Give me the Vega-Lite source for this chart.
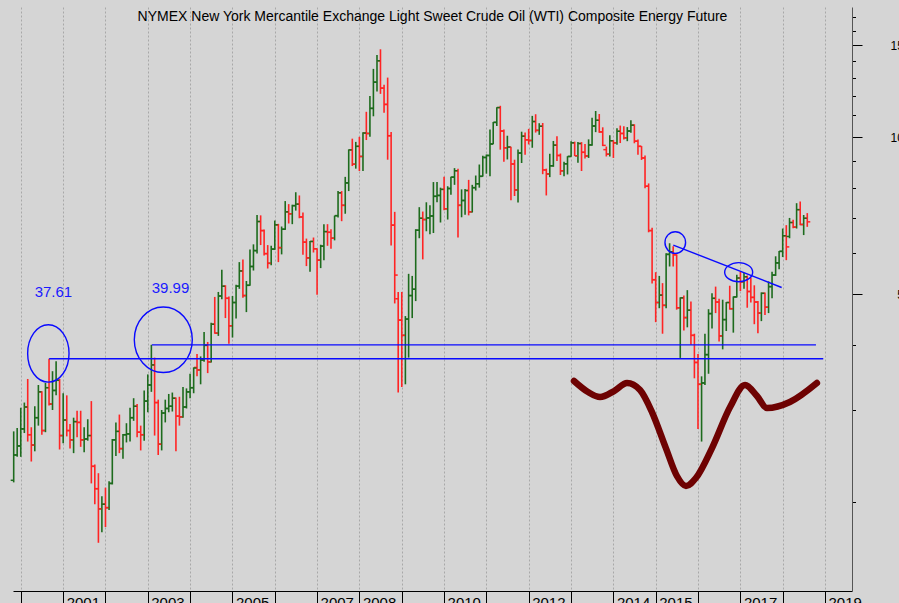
{
"$schema":"https://vega.github.io/schema/vega-lite/v6.json",
"width":839,"height":584,
"autosize":{"type":"none"},
"padding":{"left":13,"top":7,"right":47,"bottom":12},
"background":"#d5d5d5",
"config":{"view":{"stroke":null,"fill":"#d5d5d5"},"font":"Liberation Sans"},
"title":{"text":"NYMEX New York Mercantile Exchange Light Sweet Crude Oil (WTI) Composite Energy Future","anchor":"middle","frame":"group","fontSize":14,"fontWeight":"normal","font":"Liberation Sans","color":"#000000","baseline":"alphabetic","offset":-28},
"datasets":{
"ohlc":[
{"d":"1999-11-01","o":22.0,"h":27.3,"l":21.8,"c":24.6},
{"d":"1999-12-01","o":24.6,"h":27.7,"l":24.4,"c":25.6},
{"d":"2000-01-01","o":25.6,"h":30.3,"l":24.4,"c":27.6},
{"d":"2000-02-01","o":27.6,"h":31.0,"l":27.1,"c":30.4},
{"d":"2000-03-01","o":30.4,"h":34.4,"l":26.1,"c":26.9},
{"d":"2000-04-01","o":26.9,"h":27.8,"l":23.9,"c":25.7},
{"d":"2000-05-01","o":25.7,"h":30.5,"l":25.0,"c":29.0},
{"d":"2000-06-01","o":29.0,"h":33.5,"l":28.0,"c":32.5},
{"d":"2000-07-01","o":32.5,"h":32.6,"l":26.9,"c":27.4},
{"d":"2000-08-01","o":27.4,"h":33.8,"l":27.2,"c":33.1},
{"d":"2000-09-01","o":33.1,"h":37.61,"l":30.6,"c":30.8},
{"d":"2000-10-01","o":30.8,"h":35.6,"l":30.0,"c":32.7},
{"d":"2000-11-01","o":32.7,"h":37.2,"l":32.0,"c":34.2},
{"d":"2000-12-01","o":34.2,"h":34.4,"l":25.2,"c":26.8},
{"d":"2001-01-01","o":26.8,"h":32.3,"l":25.9,"c":28.7},
{"d":"2001-02-01","o":28.7,"h":32.0,"l":26.7,"c":27.4},
{"d":"2001-03-01","o":27.4,"h":28.2,"l":25.3,"c":26.3},
{"d":"2001-04-01","o":26.3,"h":29.0,"l":24.8,"c":28.5},
{"d":"2001-05-01","o":28.5,"h":29.9,"l":26.6,"c":28.4},
{"d":"2001-06-01","o":28.4,"h":29.9,"l":25.5,"c":26.3},
{"d":"2001-07-01","o":26.3,"h":27.8,"l":24.9,"c":26.4},
{"d":"2001-08-01","o":26.4,"h":28.8,"l":26.2,"c":26.8},
{"d":"2001-09-01","o":26.8,"h":31.2,"l":21.7,"c":23.4},
{"d":"2001-10-01","o":23.4,"h":23.6,"l":19.8,"c":21.2},
{"d":"2001-11-01","o":21.2,"h":22.7,"l":16.7,"c":19.4},
{"d":"2001-12-01","o":19.4,"h":20.5,"l":17.5,"c":19.8},
{"d":"2002-01-01","o":19.8,"h":21.3,"l":17.9,"c":19.5},
{"d":"2002-02-01","o":19.5,"h":21.9,"l":19.3,"c":21.7},
{"d":"2002-03-01","o":21.7,"h":26.4,"l":21.6,"c":26.3},
{"d":"2002-04-01","o":26.3,"h":28.4,"l":24.5,"c":27.3},
{"d":"2002-05-01","o":27.3,"h":29.4,"l":24.8,"c":25.3},
{"d":"2002-06-01","o":25.3,"h":27.0,"l":24.2,"c":26.9},
{"d":"2002-07-01","o":26.9,"h":28.3,"l":26.0,"c":27.0},
{"d":"2002-08-01","o":27.0,"h":30.3,"l":26.1,"c":29.0},
{"d":"2002-09-01","o":29.0,"h":31.6,"l":28.6,"c":30.5},
{"d":"2002-10-01","o":30.5,"h":30.8,"l":26.6,"c":27.2},
{"d":"2002-11-01","o":27.2,"h":28.0,"l":25.1,"c":26.9},
{"d":"2002-12-01","o":26.9,"h":32.7,"l":26.2,"c":31.2},
{"d":"2003-01-01","o":31.2,"h":35.1,"l":29.7,"c":33.5},
{"d":"2003-02-01","o":33.5,"h":39.99,"l":32.5,"c":36.6},
{"d":"2003-03-01","o":36.6,"h":37.8,"l":26.8,"c":31.0},
{"d":"2003-04-01","o":31.0,"h":31.4,"l":24.6,"c":25.8},
{"d":"2003-05-01","o":25.8,"h":30.0,"l":25.1,"c":29.6},
{"d":"2003-06-01","o":29.6,"h":31.4,"l":28.4,"c":30.2},
{"d":"2003-07-01","o":30.2,"h":32.2,"l":29.7,"c":30.5},
{"d":"2003-08-01","o":30.5,"h":32.4,"l":29.8,"c":31.6},
{"d":"2003-09-01","o":31.6,"h":31.7,"l":25.0,"c":29.2},
{"d":"2003-10-01","o":29.2,"h":31.8,"l":28.0,"c":29.1},
{"d":"2003-11-01","o":29.1,"h":33.2,"l":29.0,"c":30.4},
{"d":"2003-12-01","o":30.4,"h":33.0,"l":30.2,"c":32.5},
{"d":"2004-01-01","o":32.5,"h":35.2,"l":31.6,"c":33.1},
{"d":"2004-02-01","o":33.1,"h":36.2,"l":32.3,"c":36.1},
{"d":"2004-03-01","o":36.2,"h":38.4,"l":34.8,"c":35.8},
{"d":"2004-04-01","o":35.8,"h":38.0,"l":33.6,"c":37.4},
{"d":"2004-05-01","o":37.4,"h":42.3,"l":37.1,"c":39.9},
{"d":"2004-06-01","o":39.9,"h":40.5,"l":35.3,"c":37.1},
{"d":"2004-07-01","o":37.1,"h":44.1,"l":37.0,"c":43.8},
{"d":"2004-08-01","o":43.8,"h":49.4,"l":42.0,"c":42.1},
{"d":"2004-09-01","o":42.1,"h":50.5,"l":41.6,"c":49.6},
{"d":"2004-10-01","o":49.6,"h":55.7,"l":48.9,"c":51.8},
{"d":"2004-11-01","o":51.8,"h":52.0,"l":45.0,"c":49.1},
{"d":"2004-12-01","o":49.1,"h":49.5,"l":40.2,"c":43.5},
{"d":"2005-01-01","o":43.5,"h":49.6,"l":41.3,"c":48.2},
{"d":"2005-02-01","o":48.2,"h":52.1,"l":44.9,"c":51.8},
{"d":"2005-03-01","o":51.8,"h":57.6,"l":51.2,"c":55.4},
{"d":"2005-04-01","o":55.4,"h":58.3,"l":49.2,"c":49.7},
{"d":"2005-05-01","o":49.7,"h":53.0,"l":46.2,"c":52.0},
{"d":"2005-06-01","o":52.0,"h":60.9,"l":51.9,"c":56.5},
{"d":"2005-07-01","o":56.5,"h":62.3,"l":55.5,"c":60.6},
{"d":"2005-08-01","o":60.6,"h":70.9,"l":59.8,"c":68.9},
{"d":"2005-09-01","o":68.9,"h":70.8,"l":62.1,"c":66.2},
{"d":"2005-10-01","o":66.2,"h":66.5,"l":59.3,"c":59.8},
{"d":"2005-11-01","o":59.8,"h":62.1,"l":56.0,"c":57.3},
{"d":"2005-12-01","o":57.3,"h":61.9,"l":56.8,"c":61.0},
{"d":"2006-01-01","o":61.0,"h":69.2,"l":60.8,"c":67.9},
{"d":"2006-02-01","o":67.9,"h":68.2,"l":57.6,"c":61.4},
{"d":"2006-03-01","o":61.4,"h":67.4,"l":59.6,"c":66.6},
{"d":"2006-04-01","o":66.6,"h":75.4,"l":66.4,"c":71.9},
{"d":"2006-05-01","o":71.9,"h":74.4,"l":68.3,"c":71.3},
{"d":"2006-06-01","o":71.3,"h":74.2,"l":68.1,"c":73.9},
{"d":"2006-07-01","o":73.9,"h":78.4,"l":72.3,"c":74.4},
{"d":"2006-08-01","o":74.4,"h":77.3,"l":69.9,"c":70.3},
{"d":"2006-09-01","o":70.3,"h":71.7,"l":59.5,"c":62.9},
{"d":"2006-10-01","o":62.9,"h":63.9,"l":56.6,"c":58.7},
{"d":"2006-11-01","o":58.7,"h":63.2,"l":55.2,"c":63.1},
{"d":"2006-12-01","o":63.1,"h":64.2,"l":60.1,"c":61.1},
{"d":"2007-01-01","o":61.1,"h":61.2,"l":49.9,"c":58.1},
{"d":"2007-02-01","o":58.1,"h":62.2,"l":56.1,"c":61.8},
{"d":"2007-03-01","o":61.8,"h":68.1,"l":58.1,"c":65.9},
{"d":"2007-04-01","o":65.9,"h":68.1,"l":61.9,"c":65.7},
{"d":"2007-05-01","o":65.7,"h":66.6,"l":61.1,"c":64.0},
{"d":"2007-06-01","o":64.0,"h":70.7,"l":63.4,"c":70.7},
{"d":"2007-07-01","o":70.7,"h":78.8,"l":70.1,"c":78.2},
{"d":"2007-08-01","o":78.2,"h":78.8,"l":69.0,"c":74.0},
{"d":"2007-09-01","o":74.0,"h":83.9,"l":71.3,"c":81.7},
{"d":"2007-10-01","o":81.7,"h":94.7,"l":78.8,"c":94.5},
{"d":"2007-11-01","o":94.5,"h":99.3,"l":88.0,"c":88.7},
{"d":"2007-12-01","o":88.7,"h":97.9,"l":87.0,"c":96.0},
{"d":"2008-01-01","o":96.0,"h":100.1,"l":86.1,"c":91.8},
{"d":"2008-02-01","o":91.8,"h":102.1,"l":86.1,"c":101.8},
{"d":"2008-03-01","o":101.8,"h":111.8,"l":98.7,"c":101.6},
{"d":"2008-04-01","o":101.6,"h":119.9,"l":100.1,"c":113.5},
{"d":"2008-05-01","o":113.5,"h":135.1,"l":109.6,"c":127.4},
{"d":"2008-06-01","o":127.4,"h":143.7,"l":122.3,"c":140.0},
{"d":"2008-07-01","o":140.0,"h":147.3,"l":121.0,"c":124.1},
{"d":"2008-08-01","o":124.1,"h":126.0,"l":111.3,"c":115.5},
{"d":"2008-09-01","o":115.5,"h":130.0,"l":90.5,"c":100.6},
{"d":"2008-10-01","o":100.6,"h":102.3,"l":62.0,"c":67.8},
{"d":"2008-11-01","o":67.8,"h":71.9,"l":48.0,"c":54.4},
{"d":"2008-12-01","o":49.0,"h":50.5,"l":32.4,"c":44.6},
{"d":"2009-01-01","o":44.6,"h":50.5,"l":33.2,"c":41.7},
{"d":"2009-02-01","o":41.7,"h":45.4,"l":33.6,"c":44.8},
{"d":"2009-03-01","o":44.8,"h":54.7,"l":37.8,"c":49.7},
{"d":"2009-04-01","o":49.7,"h":54.2,"l":45.0,"c":51.1},
{"d":"2009-05-01","o":51.1,"h":66.6,"l":48.5,"c":66.3},
{"d":"2009-06-01","o":66.3,"h":73.4,"l":64.0,"c":69.9},
{"d":"2009-07-01","o":69.9,"h":72.0,"l":58.3,"c":69.5},
{"d":"2009-08-01","o":69.5,"h":75.0,"l":66.0,"c":70.0},
{"d":"2009-09-01","o":70.0,"h":74.0,"l":65.1,"c":70.6},
{"d":"2009-10-01","o":70.6,"h":82.0,"l":65.5,"c":77.0},
{"d":"2009-11-01","o":77.0,"h":82.0,"l":75.0,"c":77.3},
{"d":"2009-12-01","o":77.3,"h":80.0,"l":68.6,"c":79.4},
{"d":"2010-01-01","o":79.4,"h":83.9,"l":72.4,"c":72.9},
{"d":"2010-02-01","o":72.9,"h":80.5,"l":69.5,"c":79.7},
{"d":"2010-03-01","o":79.7,"h":83.9,"l":77.5,"c":83.8},
{"d":"2010-04-01","o":83.8,"h":87.2,"l":81.0,"c":86.2},
{"d":"2010-05-01","o":86.2,"h":87.0,"l":64.2,"c":74.0},
{"d":"2010-06-01","o":74.0,"h":79.4,"l":70.2,"c":75.6},
{"d":"2010-07-01","o":75.6,"h":79.5,"l":71.0,"c":79.0},
{"d":"2010-08-01","o":79.0,"h":82.8,"l":70.8,"c":71.9},
{"d":"2010-09-01","o":71.9,"h":81.0,"l":71.7,"c":80.0},
{"d":"2010-10-01","o":80.0,"h":84.4,"l":79.0,"c":81.4},
{"d":"2010-11-01","o":81.4,"h":88.6,"l":80.0,"c":84.1},
{"d":"2010-12-01","o":84.1,"h":92.1,"l":84.0,"c":91.4},
{"d":"2011-01-01","o":91.4,"h":92.6,"l":85.1,"c":92.2},
{"d":"2011-02-01","o":92.2,"h":103.4,"l":84.1,"c":97.0},
{"d":"2011-03-01","o":97.0,"h":106.9,"l":96.9,"c":106.7},
{"d":"2011-04-01","o":106.7,"h":114.0,"l":105.0,"c":113.9},
{"d":"2011-05-01","o":113.9,"h":114.8,"l":94.6,"c":102.7},
{"d":"2011-06-01","o":102.7,"h":103.4,"l":89.7,"c":95.4},
{"d":"2011-07-01","o":95.4,"h":100.6,"l":90.6,"c":95.7},
{"d":"2011-08-01","o":95.7,"h":95.8,"l":75.7,"c":88.8},
{"d":"2011-09-01","o":88.8,"h":90.5,"l":77.1,"c":79.2},
{"d":"2011-10-01","o":79.2,"h":94.7,"l":74.9,"c":93.2},
{"d":"2011-11-01","o":93.2,"h":102.4,"l":89.2,"c":100.4},
{"d":"2011-12-01","o":100.4,"h":102.0,"l":92.5,"c":98.8},
{"d":"2012-01-01","o":98.8,"h":103.7,"l":96.8,"c":98.5},
{"d":"2012-02-01","o":98.5,"h":109.8,"l":95.4,"c":107.1},
{"d":"2012-03-01","o":107.1,"h":110.6,"l":102.0,"c":103.0},
{"d":"2012-04-01","o":103.0,"h":106.3,"l":101.0,"c":104.9},
{"d":"2012-05-01","o":104.9,"h":106.4,"l":84.9,"c":86.5},
{"d":"2012-06-01","o":86.5,"h":87.0,"l":77.3,"c":85.0},
{"d":"2012-07-01","o":85.0,"h":92.9,"l":83.8,"c":88.1},
{"d":"2012-08-01","o":88.1,"h":98.3,"l":87.7,"c":96.5},
{"d":"2012-09-01","o":96.5,"h":100.4,"l":90.0,"c":92.2},
{"d":"2012-10-01","o":92.2,"h":93.0,"l":84.6,"c":86.2},
{"d":"2012-11-01","o":86.2,"h":89.7,"l":84.1,"c":88.9},
{"d":"2012-12-01","o":88.9,"h":91.9,"l":84.8,"c":91.8},
{"d":"2013-01-01","o":91.8,"h":98.2,"l":91.7,"c":97.5},
{"d":"2013-02-01","o":97.5,"h":98.0,"l":92.0,"c":92.1},
{"d":"2013-03-01","o":92.1,"h":97.9,"l":89.3,"c":97.2},
{"d":"2013-04-01","o":97.2,"h":97.8,"l":86.1,"c":93.5},
{"d":"2013-05-01","o":93.5,"h":97.0,"l":91.0,"c":92.0},
{"d":"2013-06-01","o":92.0,"h":99.0,"l":91.2,"c":96.6},
{"d":"2013-07-01","o":96.6,"h":108.9,"l":96.2,"c":105.0},
{"d":"2013-08-01","o":105.0,"h":112.2,"l":102.2,"c":107.7},
{"d":"2013-09-01","o":107.7,"h":110.7,"l":101.9,"c":102.3},
{"d":"2013-10-01","o":102.3,"h":104.4,"l":96.1,"c":96.4},
{"d":"2013-11-01","o":94.6,"h":95.9,"l":91.8,"c":92.7},
{"d":"2013-12-01","o":92.7,"h":100.8,"l":91.8,"c":98.4},
{"d":"2014-01-01","o":98.4,"h":98.6,"l":91.2,"c":97.5},
{"d":"2014-02-01","o":97.5,"h":104.0,"l":96.7,"c":102.6},
{"d":"2014-03-01","o":102.6,"h":105.2,"l":97.4,"c":101.6},
{"d":"2014-04-01","o":101.6,"h":104.9,"l":98.9,"c":99.7},
{"d":"2014-05-01","o":99.7,"h":104.5,"l":98.2,"c":102.7},
{"d":"2014-06-01","o":102.7,"h":107.7,"l":101.9,"c":105.4},
{"d":"2014-07-01","o":105.4,"h":105.8,"l":97.3,"c":98.2},
{"d":"2014-08-01","o":98.2,"h":98.9,"l":92.5,"c":96.0},
{"d":"2014-09-01","o":96.0,"h":96.1,"l":90.4,"c":91.2},
{"d":"2014-10-01","o":91.2,"h":92.2,"l":79.8,"c":80.5},
{"d":"2014-11-01","o":80.5,"h":81.5,"l":65.7,"c":66.2},
{"d":"2014-12-01","o":66.2,"h":67.0,"l":52.4,"c":53.3},
{"d":"2015-01-01","o":53.3,"h":55.1,"l":44.2,"c":48.2},
{"d":"2015-02-01","o":48.2,"h":54.2,"l":47.0,"c":49.8},
{"d":"2015-03-01","o":49.8,"h":52.5,"l":42.0,"c":47.6},
{"d":"2015-04-01","o":47.6,"h":59.9,"l":47.0,"c":59.6},
{"d":"2015-05-01","o":59.6,"h":62.6,"l":56.5,"c":60.3},
{"d":"2015-06-01","o":60.3,"h":61.8,"l":56.5,"c":59.5},
{"d":"2015-07-01","o":59.5,"h":59.6,"l":46.7,"c":47.1},
{"d":"2015-08-01","o":47.1,"h":49.3,"l":37.75,"c":49.2},
{"d":"2015-09-01","o":49.2,"h":49.7,"l":42.6,"c":45.1},
{"d":"2015-10-01","o":45.1,"h":50.9,"l":43.2,"c":46.6},
{"d":"2015-11-01","o":46.6,"h":48.4,"l":40.0,"c":41.7},
{"d":"2015-12-01","o":41.7,"h":42.0,"l":34.5,"c":37.0},
{"d":"2016-01-01","o":37.0,"h":38.4,"l":27.6,"c":33.6},
{"d":"2016-02-01","o":33.6,"h":34.8,"l":26.1,"c":33.8},
{"d":"2016-03-01","o":33.8,"h":42.0,"l":33.5,"c":38.3},
{"d":"2016-04-01","o":38.3,"h":46.8,"l":35.2,"c":45.9},
{"d":"2016-05-01","o":45.9,"h":50.2,"l":43.0,"c":49.1},
{"d":"2016-06-01","o":49.1,"h":51.7,"l":46.0,"c":48.3},
{"d":"2016-07-01","o":48.3,"h":49.0,"l":40.6,"c":41.6},
{"d":"2016-08-01","o":41.6,"h":48.8,"l":39.2,"c":44.7},
{"d":"2016-09-01","o":44.7,"h":48.3,"l":42.5,"c":48.2},
{"d":"2016-10-01","o":48.2,"h":51.9,"l":46.7,"c":46.9},
{"d":"2016-11-01","o":46.9,"h":49.5,"l":42.2,"c":49.4},
{"d":"2016-12-01","o":49.4,"h":54.5,"l":49.3,"c":53.7},
{"d":"2017-01-01","o":53.7,"h":55.2,"l":50.7,"c":52.8},
{"d":"2017-02-01","o":52.8,"h":54.9,"l":51.2,"c":54.0},
{"d":"2017-03-01","o":54.0,"h":54.3,"l":47.1,"c":50.6},
{"d":"2017-04-01","o":50.6,"h":53.8,"l":48.2,"c":49.3},
{"d":"2017-05-01","o":49.3,"h":52.0,"l":43.8,"c":48.3},
{"d":"2017-06-01","o":48.3,"h":48.5,"l":42.1,"c":46.0},
{"d":"2017-07-01","o":46.0,"h":50.4,"l":44.4,"c":50.2},
{"d":"2017-08-01","o":50.2,"h":50.4,"l":45.6,"c":47.2},
{"d":"2017-09-01","o":47.2,"h":52.9,"l":46.0,"c":51.7},
{"d":"2017-10-01","o":51.7,"h":55.2,"l":49.1,"c":54.4},
{"d":"2017-11-01","o":54.4,"h":59.1,"l":54.2,"c":57.4},
{"d":"2017-12-01","o":57.4,"h":60.5,"l":55.8,"c":60.4},
{"d":"2018-01-01","o":60.4,"h":66.8,"l":58.9,"c":64.7},
{"d":"2018-02-01","o":64.7,"h":67.8,"l":58.1,"c":61.6},
{"d":"2018-03-01","o":64.5,"h":70.0,"l":64.0,"c":68.6},
{"d":"2018-04-01","o":68.6,"h":69.4,"l":66.9,"c":67.2},
{"d":"2018-05-01","o":67.2,"h":74.7,"l":66.8,"c":72.6},
{"d":"2018-06-01","o":72.6,"h":75.3,"l":67.8,"c":68.0},
{"d":"2018-07-01","o":68.0,"h":70.9,"l":64.9,"c":69.9},
{"d":"2018-08-01","o":69.9,"h":71.5,"l":67.3,"c":68.8}
],
"hlines":[
{"d1":"2000-09-02","d2":"2018-12-17","p":37.61},
{"d1":"2003-02-05","d2":"2018-10-15","p":39.99}
],
"trend":[
{"d":"2015-06-02","p":62.1},
{"d":"2017-12-23","p":51.5}
],
"labels":[
{"d":"2000-10-09","p":50.5,"t":"37.61"},
{"d":"2003-07-16","p":51.3,"t":"39.99"}
],
"curve":[
{"d":"2013-01-26","p":34.09},
{"d":"2013-05-27","p":32.47},
{"d":"2013-09-08","p":31.76},
{"d":"2014-01-07","p":32.62},
{"d":"2014-04-29","p":33.79},
{"d":"2014-08-19","p":32.76},
{"d":"2014-11-30","p":29.73},
{"d":"2015-03-30","p":25.36},
{"d":"2015-07-03","p":22.42},
{"d":"2015-09-19","p":21.45},
{"d":"2015-12-14","p":22.22},
{"d":"2016-05-01","p":25.36},
{"d":"2016-10-04","p":30.39},
{"d":"2017-02-10","p":33.49},
{"d":"2017-05-24","p":31.90},
{"d":"2017-08-18","p":30.25},
{"d":"2018-03-04","p":31.07},
{"d":"2018-10-23","p":33.79}
]
},
"layer":[
{"data":{"name":"ohlc"},
 "mark":{"type":"rule","strokeWidth":1.6},
 "encoding":{
  "x":{"field":"d","type":"temporal","scale":{"domain":["1999-10-26","2019-08-22"],"nice":false},
   "axis":{"orient":"bottom","title":null,"format":"%Y","tickCount":{"interval":"year","step":1},
    "labelExpr":"indexof([2001,2003,2005,2007,2008,2010,2012,2014,2015,2017,2019], year(datum.value)) >= 0 ? datum.label : ''",
    "labelAlign":"left","labelOffset":3,"labelPadding":-9,"labelFontSize":15,"labelColor":"#000000","labelFont":"Liberation Sans",
    "labelOverlap":false,"labelFlush":false,"labelBaseline":"top",
    "tickSize":13,"tickColor":"#000000","tickWidth":1,"domainColor":"#000000","domainWidth":1,
    "grid":true,"gridColor":"#a8a8a8","gridDash":[2,2],"gridWidth":1}},
  "y":{"field":"l","type":"quantitative","scale":{"type":"log","domain":[13.5,177.5],"nice":false},
   "axis":{"orient":"right","title":null,"values":[20,30,40,50,60,70,80,90,100,110,120,130,140,150,160,170],
    "labelExpr":"(datum.value==50||datum.value==100||datum.value==150) ? datum.label : ''",
    "format":"d","labelAlign":"right","labelBaseline":"middle","labelPadding":48,"labelFontSize":12,"labelColor":"#000000","labelFont":"Liberation Sans","labelOverlap":false,
    "tickSize":{"condition":{"test":"datum.value==50||datum.value==100||datum.value==150","value":10},"value":3.5},
    "tickColor":"#000000","domainColor":"#555555","grid":false}},
  "y2":{"field":"h"},
  "color":{"condition":{"test":"datum.c >= datum.o","value":"#1d6b1d"},"value":"#ff2424"}
 }},
{"data":{"name":"ohlc"},
 "mark":{"type":"rule","strokeWidth":1.5,"xOffset":-3,"x2Offset":0},
 "encoding":{
  "x":{"field":"d","type":"temporal"},"x2":{"field":"d"},
  "y":{"field":"o","type":"quantitative"},
  "color":{"condition":{"test":"datum.c >= datum.o","value":"#1d6b1d"},"value":"#ff2424"}}},
{"data":{"name":"ohlc"},
 "mark":{"type":"rule","strokeWidth":1.5,"xOffset":0,"x2Offset":3},
 "encoding":{
  "x":{"field":"d","type":"temporal"},"x2":{"field":"d"},
  "y":{"field":"c","type":"quantitative"},
  "color":{"condition":{"test":"datum.c >= datum.o","value":"#1d6b1d"},"value":"#ff2424"}}},
{"data":{"name":"hlines"},
 "mark":{"type":"rule","color":"#0a0aff","strokeWidth":1.4},
 "encoding":{"x":{"field":"d1","type":"temporal"},"x2":{"field":"d2"},"y":{"field":"p","type":"quantitative"}}},
{"data":{"name":"trend"},
 "mark":{"type":"line","color":"#0a0aff","strokeWidth":1.4},
 "encoding":{"x":{"field":"d","type":"temporal"},"y":{"field":"p","type":"quantitative"}}},
{"data":{"values":[{"d":"2000-08-26","p":38.5}]},
 "mark":{"type":"point","shape":"M -0.721 0 A 0.721 1 0 1 0 0.721 0 A 0.721 1 0 1 0 -0.721 0 Z","size":3295,"filled":false,"stroke":"#0a0aff","strokeWidth":1.4,"opacity":1},
 "encoding":{"x":{"field":"d","type":"temporal"},"y":{"field":"p","type":"quantitative"}}},
{"data":{"values":[{"d":"2003-05-15","p":40.9}]},
 "mark":{"type":"point","shape":"M -0.884 0 A 0.884 1 0 1 0 0.884 0 A 0.884 1 0 1 0 -0.884 0 Z","size":4303,"filled":false,"stroke":"#0a0aff","strokeWidth":1.4,"opacity":1},
 "encoding":{"x":{"field":"d","type":"temporal"},"y":{"field":"p","type":"quantitative"}}},
{"data":{"values":[{"d":"2015-06-19","p":62.8}]},
 "mark":{"type":"point","shape":"M -0.954 0 A 0.954 1 0 1 0 0.954 0 A 0.954 1 0 1 0 -0.954 0 Z","size":467,"filled":false,"stroke":"#0a0aff","strokeWidth":1.4,"opacity":1},
 "encoding":{"x":{"field":"d","type":"temporal"},"y":{"field":"p","type":"quantitative"}}},
{"data":{"values":[{"d":"2016-12-17","p":55.1}]},
 "mark":{"type":"point","shape":"M -1 0 A 1 0.679 0 1 0 1 0 A 1 0.679 0 1 0 -1 0 Z","size":784,"filled":false,"stroke":"#0a0aff","strokeWidth":1.4,"opacity":1},
 "encoding":{"x":{"field":"d","type":"temporal"},"y":{"field":"p","type":"quantitative"}}},
{"data":{"name":"labels"},
 "mark":{"type":"text","color":"#1a1aff","fontSize":15,"font":"Liberation Sans","align":"center","baseline":"middle"},
 "encoding":{"x":{"field":"d","type":"temporal"},"y":{"field":"p","type":"quantitative"},"text":{"field":"t"}}},
{"data":{"name":"curve"},
 "mark":{"type":"line","color":"#6e0202","strokeWidth":6.5,"interpolate":"monotone","strokeCap":"round","strokeJoin":"round"},
 "encoding":{"x":{"field":"d","type":"temporal"},"y":{"field":"p","type":"quantitative"}}}
]
}
